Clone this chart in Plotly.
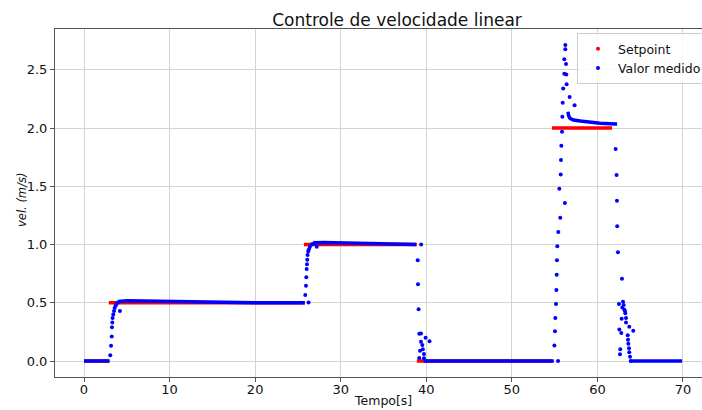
import plotly.graph_objects as go

# ---------------- data ----------------
# Setpoint (step segments): start time, end time, value
SP_START = [0.0, 2.9, 25.7, 38.9, 54.7]
SP_END = [2.9, 25.8, 38.9, 54.7, 61.7]
SP_VALUE = [0.0, 0.5, 1.0, 0.0, 2.0]

# Measured value - dense (quasi-continuous) stretches
MEAS_FLAT0_T = [0.0, 3.0]
MEAS_FLAT0_V = [0.0, 0.0]
MEAS_PLAT05_T = [4.0, 5.0, 7.0, 10.0, 13.0, 16.0, 20.0, 25.8]
MEAS_PLAT05_V = [0.510, 0.518, 0.515, 0.510, 0.505, 0.502, 0.500, 0.500]
MEAS_PLAT10_T = [26.6, 27.0, 28.0, 30.0, 32.0, 35.0, 38.8]
MEAS_PLAT10_V = [1.000, 1.015, 1.018, 1.015, 1.010, 1.005, 1.000]
MEAS_FLAT0B_T = [39.7, 54.9]
MEAS_FLAT0B_V = [0.0, 0.0]
MEAS_PLAT20_T = [56.56, 56.64, 56.8, 57.2, 58.0, 59.0, 60.3, 61.5, 62.3]
MEAS_PLAT20_V = [2.140, 2.103, 2.083, 2.069, 2.060, 2.050, 2.040, 2.037, 2.035]
MEAS_FLAT0C_T = [63.9, 69.9]
MEAS_FLAT0C_V = [0.0, 0.0]

# Measured value - individual samples in the transients
RISE1_T = [3.07, 3.16, 3.24, 3.27, 3.31, 3.34, 3.42, 3.51, 3.58, 3.69, 3.81, 4.0, 4.2]
RISE1_V = [0.05, 0.13, 0.21, 0.29, 0.33, 0.37, 0.40, 0.43, 0.455, 0.475, 0.49, 0.505, 0.43]

RISE2_T = [25.86, 25.94, 25.98, 26.02, 26.06, 26.09, 26.13, 26.2, 26.24, 26.29, 26.4,
           26.6, 26.99, 27.2]
RISE2_V = [0.566, 0.646, 0.718, 0.79, 0.83, 0.87, 0.91, 0.94, 0.503, 0.96, 0.98,
           1.0, 1.015, 0.98]

DROP1_T = [39.0, 39.03, 39.1, 39.18, 39.18, 39.27, 39.38, 39.38, 39.4, 39.54, 39.6,
           39.73, 39.73, 39.92, 40.38]
DROP1_V = [0.864, 0.658, 0.444, 0.234, 0.026, 0.089, 0.237, 0.166, 1.0, 0.137, 0.1,
           0.06, 0.023, 0.2, 0.17]

RISE3_T = [54.97, 55.04, 55.08, 55.16, 55.2, 55.24, 55.27, 55.31, 55.4, 55.43, 55.55,
           55.66, 55.71, 55.74, 55.78, 55.86, 55.9, 55.94, 56.0, 56.13, 56.13, 56.2,
           56.25, 56.25, 56.33, 56.36, 56.4, 56.75, 57.33]
RISE3_V = [0.134, 0.255, 0.37, 0.49, 0.61, 0.74, 0.864, 0.985, 0.0, 1.107, 1.479,
           1.23, 1.6, 1.725, 1.848, 1.968, 2.097, 2.217, 2.34, 2.466, 2.59, 1.356,
           2.675, 2.712, 2.55, 2.46, 2.375, 2.266, 2.195]

DROP2_T = [62.13, 62.24, 62.28, 62.31, 62.4, 62.87, 62.52, 62.99, 63.07, 62.91, 63.14,
           63.22, 63.26, 62.83, 63.34, 63.34, 63.72, 64.19, 62.56, 62.79, 63.54, 63.57,
           63.61, 63.69, 63.72, 63.81, 62.67, 62.64, 63.89]
DROP2_V = [1.82, 1.597, 1.376, 1.156, 0.933, 0.707, 0.489, 0.509, 0.48, 0.46, 0.44,
           0.43, 0.41, 0.363, 0.37, 0.33, 0.295, 0.26, 0.27, 0.24, 0.22, 0.183,
           0.148, 0.11, 0.075, 0.037, 0.1, 0.057, 0.0]

X_TICKS = [0, 10, 20, 30, 40, 50, 60, 70]
Y_TICKS = [0.0, 0.5, 1.0, 1.5, 2.0, 2.5]
Y_TICK_TEXT = ["0.0", "0.5", "1.0", "1.5", "2.0", "2.5"]

TITLE = "Controle de velocidade linear"
X_LABEL = "Tempo[s]"
Y_LABEL = "<i>vel. (m/s)</i>"

# ---------------- figure ----------------
W, H = 702, 410
ML, MR, MT, MB = 55, 0, 29, 33
BLUE = "#0000ff"
RED = "#ff0000"
FONT = "DejaVu Sans"
TXT = "#111111"


def join_segments(ts_list, vs_list):
    xs, ys = [], []
    for ts, vs in zip(ts_list, vs_list):
        xs += list(ts) + [None]
        ys += list(vs) + [None]
    return xs, ys


fig = go.Figure()

# Setpoint: dense dots rendered as thick segments
sp_x, sp_y = join_segments([[a, b] for a, b in zip(SP_START, SP_END)],
                           [[v, v] for v in SP_VALUE])
fig.add_trace(go.Scatter(x=sp_x, y=sp_y, mode="lines",
                         line=dict(color=RED, width=3.5),
                         showlegend=False, hoverinfo="skip"))

# Measured: dense stretches
m_x, m_y = join_segments(
    [MEAS_FLAT0_T, MEAS_PLAT05_T, MEAS_PLAT10_T, MEAS_FLAT0B_T, MEAS_PLAT20_T, MEAS_FLAT0C_T],
    [MEAS_FLAT0_V, MEAS_PLAT05_V, MEAS_PLAT10_V, MEAS_FLAT0B_V, MEAS_PLAT20_V, MEAS_FLAT0C_V])
fig.add_trace(go.Scatter(x=m_x, y=m_y, mode="lines",
                         line=dict(color=BLUE, width=3.5),
                         showlegend=False, hoverinfo="skip"))

# Measured: transient samples
tr_t = RISE1_T + RISE2_T + DROP1_T + RISE3_T + DROP2_T
tr_v = RISE1_V + RISE2_V + DROP1_V + RISE3_V + DROP2_V
fig.add_trace(go.Scatter(x=tr_t, y=tr_v, mode="markers",
                         marker=dict(color=BLUE, size=4, line=dict(width=0)),
                         showlegend=False))

# legend entries
fig.add_trace(go.Scatter(x=[None], y=[None], mode="markers", name="Setpoint",
                         marker=dict(color=RED, size=4, line=dict(width=0))))
fig.add_trace(go.Scatter(x=[None], y=[None], mode="markers", name="Valor medido",
                         marker=dict(color=BLUE, size=4, line=dict(width=0))))

plot_w = W - ML - MR
plot_h = H - MT - MB
x0_px, x_scale = 84, 8.557     # pixel of t=0, px per second (from reference)
y0_px, y_scale = 361, 116.5    # pixel of v=0, px per unit
x_range = [-(x0_px - ML) / x_scale, (W - MR - x0_px) / x_scale]
y_range = [-(H - MB - y0_px) / y_scale, (y0_px - MT) / y_scale]

axis_common = dict(
    showgrid=True, gridcolor="#d3d3d3", gridwidth=1,
    zeroline=False, showline=True, linecolor="#555555", linewidth=1,
    mirror=True, ticks="outside", ticklen=4, tickwidth=1, tickcolor="#555555",
    tickfont=dict(family=FONT, size=13, color=TXT), automargin=False,
)

fig.update_layout(
    width=W, height=H,
    margin=dict(l=ML, r=MR, t=MT, b=MB, pad=0, autoexpand=False),
    paper_bgcolor="white", plot_bgcolor="white",
    font=dict(family=FONT, size=13, color=TXT),
    title=dict(text=TITLE, x=397 / W, xanchor="center",
               y=1 - 20 / H, yanchor="middle", xref="container", yref="container",
               font=dict(family=FONT, size=17, color=TXT)),
    xaxis=dict(range=x_range, tickvals=X_TICKS, ticktext=[str(v) for v in X_TICKS],
               ticklabelstandoff=-4, **axis_common),
    yaxis=dict(range=y_range, tickvals=Y_TICKS, ticktext=Y_TICK_TEXT,
               **axis_common),
    legend=dict(x=(577 - ML) / plot_w, y=(H - MB - 33) / plot_h, xanchor="left",
                yanchor="top", bgcolor="rgba(255,255,255,0.85)", bordercolor="#cccccc",
                borderwidth=1, font=dict(family=FONT, size=12.5, color=TXT),
                itemsizing="trace"),
    showlegend=True,
    annotations=[
        dict(text=X_LABEL, xref="paper", yref="paper",
             x=(383 - ML) / plot_w, y=-(401 - (H - MB)) / plot_h,
             xanchor="center", yanchor="middle", showarrow=False,
             font=dict(family=FONT, size=12.5, color=TXT)),
        dict(text=Y_LABEL, xref="paper", yref="paper",
             x=(22 - ML) / plot_w, y=(H - MB - 200) / plot_h, textangle=-90,
             xanchor="center", yanchor="middle", showarrow=False,
             font=dict(family=FONT, size=11.5, color=TXT)),
    ],
)

fig.write_html("out.html")
